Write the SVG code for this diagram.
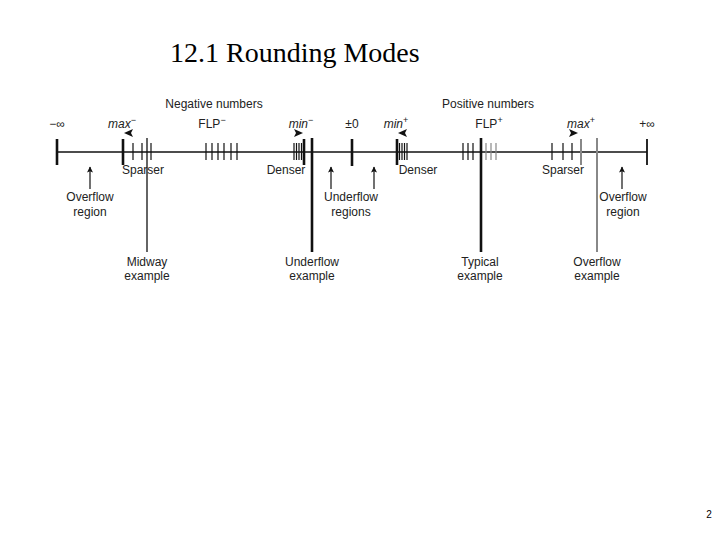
<svg xmlns="http://www.w3.org/2000/svg" width="720" height="540" viewBox="0 0 720 540">
<defs>
<marker id="up" viewBox="0 0 10 10" refX="9" refY="5" markerWidth="8" markerHeight="6" orient="auto" markerUnits="userSpaceOnUse">
<path d="M0,0 L10,5 L0,10 L2,5 Z" fill="#111"/>
</marker>
</defs>
<style>
.t{font-family:"Liberation Sans",Arial,sans-serif;font-size:12px;fill:#222;text-anchor:middle}
.it{font-style:italic}
.ax{stroke:#111;stroke-width:1.5}
.tk{stroke:#111;stroke-width:2.6}
.st{stroke:#111;stroke-width:1.2}
.gt{stroke:#888;stroke-width:1.2}
.ar{stroke:#111;stroke-width:1.2;fill:none}
.hd{fill:#111}
</style>
<rect width="720" height="540" fill="#fff"/>
<text x="170" y="62" style="font-family:'Liberation Serif','Times New Roman',serif;font-size:28px;fill:#000">12.1 Rounding Modes</text>
<text x="709" y="518" style="font-family:'Liberation Sans',Arial,sans-serif;font-size:10px;fill:#000" text-anchor="middle">2</text>

<g id="connectors">
<line class="ax" x1="57" y1="152" x2="647" y2="152"/>
<line class="tk" x1="57" y1="139" x2="57" y2="165"/>
<line class="tk" x1="123" y1="139" x2="123" y2="165"/>
<line class="tk" x1="304" y1="139" x2="304" y2="165"/>
<line class="tk" x1="352" y1="139" x2="352" y2="166"/>
<line class="tk" x1="397" y1="139" x2="397" y2="165"/>
<line style="stroke:#111;stroke-width:1.8" x1="647" y1="139" x2="647" y2="165"/>
<line style="stroke:#888;stroke-width:2" x1="581" y1="139" x2="581" y2="165"/>
<g class="st">
<line x1="133" y1="143" x2="133" y2="160"/><line x1="142" y1="143" x2="142" y2="160"/><line x1="151" y1="143" x2="151" y2="160"/>
<line x1="206" y1="143" x2="206" y2="160"/><line x1="212" y1="143" x2="212" y2="160"/><line x1="218" y1="143" x2="218" y2="160"/><line x1="224" y1="143" x2="224" y2="160"/><line x1="231" y1="143" x2="231" y2="160"/><line x1="237" y1="143" x2="237" y2="160"/>
<line x1="294" y1="143" x2="294" y2="160"/><line x1="296.5" y1="143" x2="296.5" y2="160"/><line x1="299" y1="143" x2="299" y2="160"/><line x1="301.5" y1="143" x2="301.5" y2="160"/>
<line x1="399.5" y1="143" x2="399.5" y2="160"/><line x1="402" y1="143" x2="402" y2="160"/><line x1="404.5" y1="143" x2="404.5" y2="160"/><line x1="407" y1="143" x2="407" y2="160"/>
<line x1="463" y1="143" x2="463" y2="160"/><line x1="468" y1="143" x2="468" y2="160"/><line x1="473" y1="143" x2="473" y2="160"/>
<line x1="552" y1="143" x2="552" y2="160"/><line x1="563" y1="143" x2="563" y2="160"/><line x1="572" y1="143" x2="572" y2="160"/>
</g>
<g class="gt">
<line x1="486" y1="143" x2="486" y2="160"/><line x1="491" y1="143" x2="491" y2="160"/><line x1="496" y1="143" x2="496" y2="160"/>
</g>
<line style="stroke:#111;stroke-width:1.3" x1="147" y1="138" x2="147" y2="252"/>
<line style="stroke:#111;stroke-width:2.6" x1="312" y1="138" x2="312" y2="252"/>
<line style="stroke:#111;stroke-width:2.6" x1="481" y1="138" x2="481" y2="252"/>
<line style="stroke:#888;stroke-width:2" x1="597" y1="138" x2="597" y2="252"/>
<line class="ar" x1="90" y1="189" x2="90" y2="167" marker-end="url(#up)"/>
<line class="ar" x1="331" y1="189" x2="331" y2="167" marker-end="url(#up)"/>
<line class="ar" x1="374" y1="189" x2="374" y2="167" marker-end="url(#up)"/>
<line class="ar" x1="622" y1="189" x2="622" y2="167" marker-end="url(#up)"/>
<path class="hd" d="M124,133 L133,129 L131,133 L133,137 Z"/>
<path class="hd" d="M303,133 L294,129 L296,133 L294,137 Z"/>
<path class="hd" d="M398,133 L407,129 L405,133 L407,137 Z"/>
<path class="hd" d="M578,133 L569,129 L571,133 L569,137 Z"/>
</g>

<g id="top-labels">
<text class="t" x="214" y="108">Negative numbers</text>
<text class="t" x="488" y="108">Positive numbers</text>
<text class="t" x="57" y="128">−∞</text>
<text class="t it" x="122" y="128">max<tspan dy="-5" font-size="9" font-style="normal">−</tspan></text>
<text class="t" x="212" y="128">FLP<tspan dy="-5" font-size="9">−</tspan></text>
<text class="t it" x="301" y="128">min<tspan dy="-5" font-size="9" font-style="normal">−</tspan></text>
<text class="t" x="352" y="128">±0</text>
<text class="t it" x="396" y="128">min<tspan dy="-5" font-size="9" font-style="normal">+</tspan></text>
<text class="t" x="489" y="128">FLP<tspan dy="-5" font-size="9">+</tspan></text>
<text class="t it" x="581" y="128">max<tspan dy="-5" font-size="9" font-style="normal">+</tspan></text>
<text class="t" x="647" y="128">+∞</text>
</g>

<g id="density-labels">
<text class="t" x="143" y="174">Sparser</text>
<text class="t" x="286" y="174">Denser</text>
<text class="t" x="418" y="174">Denser</text>
<text class="t" x="563" y="174">Sparser</text>
</g>

<g id="overflow-left"><text class="t" x="90" y="201">Overflow</text><text class="t" x="90" y="216">region</text></g>
<g id="underflow-regions"><text class="t" x="351" y="201">Underflow</text><text class="t" x="351" y="216">regions</text></g>
<g id="overflow-right"><text class="t" x="623" y="201">Overflow</text><text class="t" x="623" y="216">region</text></g>
<g id="midway"><text class="t" x="147" y="266">Midway</text><text class="t" x="147" y="280">example</text></g>
<g id="underflow-ex"><text class="t" x="312" y="266">Underflow</text><text class="t" x="312" y="280">example</text></g>
<g id="typical"><text class="t" x="480" y="266">Typical</text><text class="t" x="480" y="280">example</text></g>
<g id="overflow-ex"><text class="t" x="597" y="266">Overflow</text><text class="t" x="597" y="280">example</text></g>
</svg>
